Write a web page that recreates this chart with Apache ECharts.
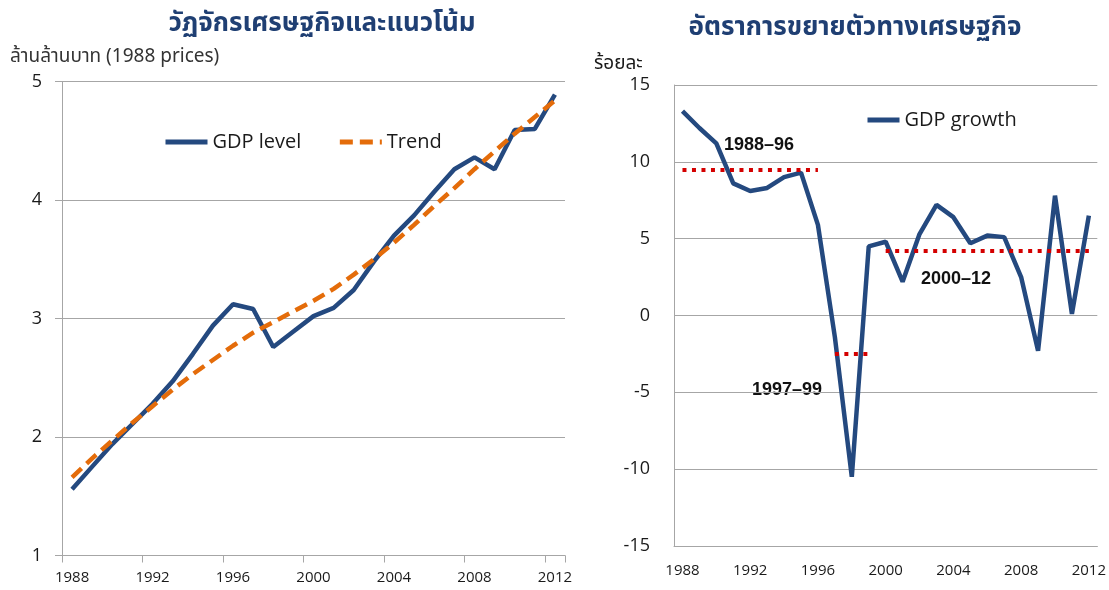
<!DOCTYPE html>
<html>
<head>
<meta charset="utf-8">
<title>GDP</title>
<script src="https://cdn.jsdelivr.net/npm/echarts@6/dist/echarts.min.js"></script>
<style>
  html, body { margin: 0; padding: 0; background: #fff; }
  #echarts_main { width: 1109px; height: 590px; }
</style>
</head>
<body>
<div id="echarts_main"></div>
<script>
// ข้อมูล (อ่านจากภาพ)
var years = ['1988','1989','1990','1991','1992','1993','1994','1995','1996','1997','1998','1999',
             '2000','2001','2002','2003','2004','2005','2006','2007','2008','2009','2010','2011','2012'];
var gdpLevel = [1.56, 1.75, 1.94, 2.11, 2.28, 2.47, 2.70, 2.94, 3.12, 3.08, 2.76, 2.89,
                3.02, 3.09, 3.24, 3.48, 3.70, 3.87, 4.07, 4.26, 4.36, 4.26, 4.59, 4.60, 4.89];
var trend = [1.66, 1.82, 1.97, 2.12, 2.26, 2.40, 2.53, 2.65, 2.77, 2.88, 2.97, 3.06,
             3.15, 3.25, 3.37, 3.50, 3.64, 3.79, 3.95, 4.10, 4.26, 4.41, 4.56, 4.70, 4.84];
var gdpGrowth = [13.3, 12.2, 11.2, 8.6, 8.1, 8.3, 9.0, 9.3, 5.9, -1.4, -10.5, 4.5,
                 4.8, 2.2, 5.3, 7.2, 6.4, 4.7, 5.2, 5.1, 2.5, -2.3, 7.8, 0.1, 6.5];
var levelTicks = [1, 2, 3, 4, 5];
var growthTicks = [-15, -10, -5, 0, 5, 10, 15];
var periodLabels = ['1988–96', '1997–99', '2000–12'];
var periodStart = ['1988', '1997', '2000'];
var periodEnd = ['1996', '1999', '2012'];
var periodAvg = [9.5, -2.5, 4.2];

var FONT = '"Open Sans", "Noto Sans", sans-serif';
var THAI = '"Noto Sans Thai", "Noto Sans", "DejaVu Sans", sans-serif';
var BLUE = '#24497f';
var ORANGE = '#e46c0a';
var GRID = '#a6a6a6';

var myChart = echarts.init(document.getElementById('echarts_main'));

// เส้นค่าเฉลี่ยแต่ละช่วง
var avgLines = [];
for (var i = 0; i < periodLabels.length; i++) {
  avgLines.push([{ coord: [periodStart[i], periodAvg[i]] }, { coord: [periodEnd[i], periodAvg[i]] }]);
}

function xAxisOf(gridIndex, showTick, labelMargin) {
  return {
    type: 'category', gridIndex: gridIndex, data: years, boundaryGap: true,
    axisLine: { onZero: false, lineStyle: { color: GRID, width: 1 } },
    axisTick: { show: showTick, interval: 3, length: 7, lineStyle: { color: GRID } },
    axisLabel: { interval: 3, margin: labelMargin, fontFamily: FONT, fontSize: 15, color: '#1a1a1a' },
    splitLine: { show: false }
  };
}

var option = {
  animation: false,
  backgroundColor: '#fff',
  title: [
    { text: 'วัฏจักรเศรษฐกิจและแนวโน้ม', left: 317, top: 8, textAlign: 'center',
      textStyle: { fontFamily: THAI, fontSize: 26, fontWeight: 'bold', color: '#1f3f73' } },
    { text: 'อัตราการขยายตัวทางเศรษฐกิจ', left: 850, top: 12, textAlign: 'center',
      textStyle: { fontFamily: THAI, fontSize: 26, fontWeight: 'bold', color: '#1f3f73' } }
  ],
  legend: [
    { data: ['GDP level', 'Trend'], left: 158, top: 127, itemWidth: 42, itemHeight: 14, itemGap: 36,
      itemStyle: { opacity: 0 }, lineStyle: { width: 5 },
      textStyle: { fontFamily: FONT, fontSize: 20, color: '#1a1a1a' } },
    { data: ['GDP growth'], left: 860, top: 105, itemWidth: 32, itemHeight: 14,
      itemStyle: { opacity: 0 }, lineStyle: { width: 5 },
      textStyle: { fontFamily: FONT, fontSize: 20, color: '#1a1a1a' } }
  ],
  grid: [
    { left: 62, right: 544, top: 81.5, bottom: 34.5 },
    { left: 674, right: 11, top: 85, bottom: 44 }
  ],
  xAxis: [xAxisOf(0, true, 15), xAxisOf(1, false, 17)],
  yAxis: [
    { type: 'value', gridIndex: 0, min: levelTicks[0], max: levelTicks[levelTicks.length - 1], interval: 1,
      axisLine: { show: true, lineStyle: { color: GRID } },
      axisTick: { show: true, length: 7, lineStyle: { color: GRID } },
      axisLabel: { margin: 20, fontFamily: FONT, fontSize: 18, color: '#1a1a1a' },
      splitLine: { lineStyle: { color: GRID } } },
    { type: 'value', gridIndex: 1, min: growthTicks[0], max: growthTicks[growthTicks.length - 1], interval: 5,
      axisLine: { show: true, lineStyle: { color: GRID } },
      axisTick: { show: false },
      axisLabel: { margin: 24, fontFamily: FONT, fontSize: 18, color: '#1a1a1a' },
      splitLine: { lineStyle: { color: GRID } } }
  ],
  series: [
    { name: 'GDP level', type: 'line', xAxisIndex: 0, yAxisIndex: 0, data: gdpLevel,
      symbol: 'none', lineStyle: { color: BLUE, width: 4.5 }, itemStyle: { color: BLUE }, z: 3 },
    { name: 'Trend', type: 'line', xAxisIndex: 0, yAxisIndex: 0, data: trend,
      symbol: 'none', lineStyle: { color: ORANGE, width: 4.5, type: [13, 7] }, itemStyle: { color: ORANGE }, z: 4 },
    { name: 'GDP growth', type: 'line', xAxisIndex: 1, yAxisIndex: 1, data: gdpGrowth,
      symbol: 'none', lineStyle: { color: BLUE, width: 4.5 }, itemStyle: { color: BLUE }, z: 3,
      markLine: {
        silent: true, symbol: 'none', label: { show: false },
        lineStyle: { color: '#d40000', width: 4, type: [4, 5.5] },
        data: avgLines
      } }
  ],
  graphic: [
    { type: 'text', left: 10, top: 49, style: { text: 'ล้านล้านบาท (1988 prices)', font: '19px ' + THAI, fill: '#333' } },
    { type: 'text', left: 594, top: 56, style: { text: 'ร้อยละ', font: '19px ' + THAI, fill: '#1a1a1a' } },
    { type: 'text', x: 759, y: 145, style: { text: periodLabels[0], font: 'bold 18px "Liberation Sans", Arial', fill: '#111', align: 'center', verticalAlign: 'middle' } },
    { type: 'text', x: 787, y: 390, style: { text: periodLabels[1], font: 'bold 18px "Liberation Sans", Arial', fill: '#111', align: 'center', verticalAlign: 'middle' } },
    { type: 'text', x: 956, y: 279, style: { text: periodLabels[2], font: 'bold 18px "Liberation Sans", Arial', fill: '#111', align: 'center', verticalAlign: 'middle' } }
  ]
};

myChart.setOption(option);
</script>
</body>
</html>
